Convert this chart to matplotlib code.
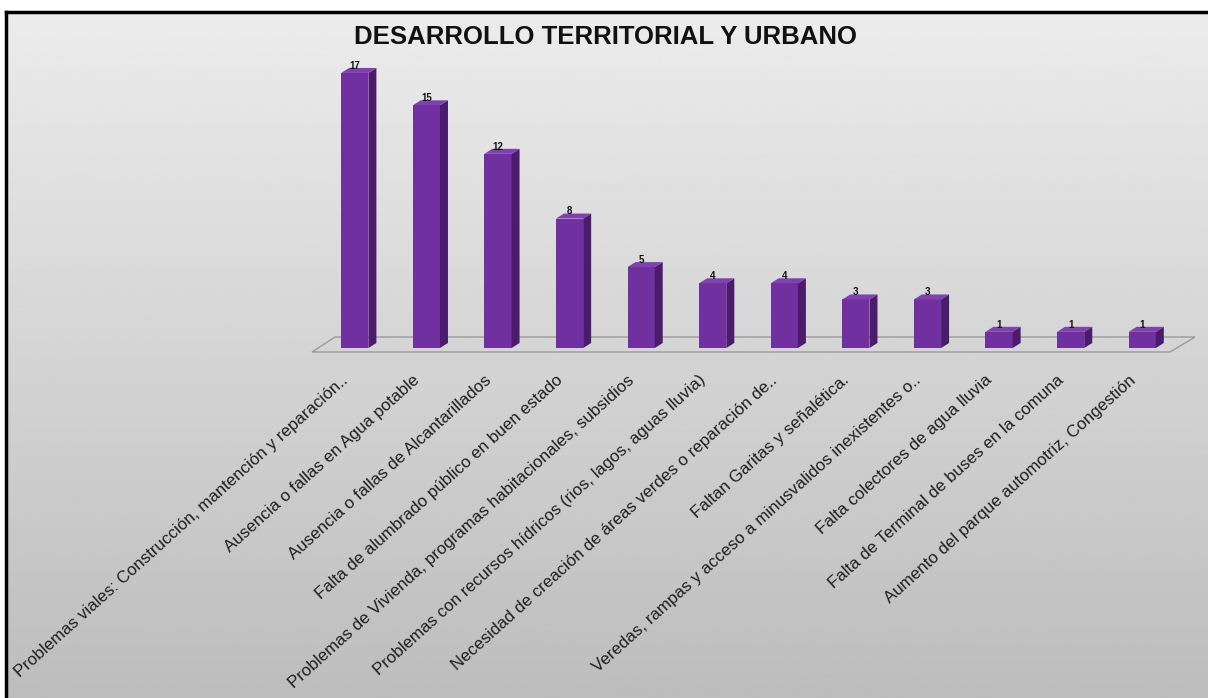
import matplotlib.pyplot as plt
import numpy as np
from matplotlib.patches import Polygon
from matplotlib.lines import Line2D

plt.rcParams['font.family'] = ['Liberation Sans', 'DejaVu Sans']

titulo = 'DESARROLLO TERRITORIAL Y URBANO'
categorias = [
    'Problemas viales: Construcción, mantención y reparación..',
    'Ausencia o fallas en Agua potable',
    'Ausencia o fallas de Alcantarillados',
    'Falta de alumbrado público en buen estado',
    'Problemas de Vivienda, programas habitacionales, subsidios',
    'Problemas con recursos hídricos (rios, lagos, aguas lluvia)',
    'Necesidad de creación de áreas verdes o reparación de..',
    'Faltan Garitas y señalética.',
    'Veredas, rampas y acceso a minusvalidos inexistentes o..',
    'Falta colectores de agua lluvia',
    'Falta de Terminal de buses en la comuna',
    'Aumento del parque automotriz, Congestión',
]
valores = [17, 15, 12, 8, 5, 4, 4, 3, 3, 1, 1, 1]

W, H = 1208, 698
fig = plt.figure(figsize=(W / 100, H / 100), dpi=100)
fig.patch.set_facecolor('white')

# fondo degradado dentro del marco
bg = fig.add_axes([6 / W, 0, 1 - 6 / W, (H - 12) / H])
grad = np.linspace(0.925, 0.74, 256).reshape(-1, 1)
bg.imshow(grad, cmap='gray', vmin=0, vmax=1, aspect='auto', extent=[0, 1, 0, 1])
bg.axis('off')
fig.add_artist(Line2D([6 / W, 6 / W], [0, (H - 12) / H], color='black', lw=2.5))
fig.add_artist(Line2D([6 / W, 1], [(H - 12) / H, (H - 12) / H], color='black', lw=2.5))

# ejes principales
x0_px, x1_px = 319, 1178
y0_px = 348
ymax = 18.5
px_y = 16.18
ax = fig.add_axes([x0_px / W, (H - y0_px) / H, (x1_px - x0_px) / W, ymax * px_y / H])
ax.set_xlim(-0.5, len(valores) - 0.5)
ax.set_ylim(0, ymax)
ax.patch.set_alpha(0)
for s in ax.spines.values():
    s.set_visible(False)
ax.set_yticks([])
ax.set_xticks([])

ux = (x1_px - x0_px) / len(valores)   # px por unidad x
uy = px_y                              # px por unidad y

def px(dx, dy):
    return dx / ux, dy / uy

# piso
xl, xr = ax.get_xlim()
fl = (xl + px(-7, 0)[0], px(0, -4)[1])
fr = (xr + px(-8, 0)[0], px(0, -4)[1])
br = (xr + px(17, 0)[0], px(0, 11)[1])
bl = (xl + px(16, 0)[0], px(0, 11)[1])
ax.add_patch(Polygon([fl, fr, br, bl], closed=True, facecolor='none',
                     edgecolor='#9a9a9a', lw=1, zorder=1, clip_on=False))

# barras 3D
x = np.arange(len(valores))
ancho = 0.38
ddx, ddy = px(8, 5)
ax.bar(x, valores, width=ancho, color='#7030a0', zorder=3)
for xi, v in zip(x, valores):
    xa, xb = xi - ancho / 2, xi + ancho / 2
    ax.add_patch(Polygon([(xb, 0), (xb, v), (xb + ddx, v + ddy), (xb + ddx, ddy)],
                         closed=True, facecolor='#4a1c6b', edgecolor='none', zorder=3, clip_on=False))
    ax.add_patch(Polygon([(xa, v), (xb, v), (xb + ddx, v + ddy), (xa + ddx, v + ddy)],
                         closed=True, facecolor='#8040b0', edgecolor='none', zorder=3, clip_on=False))
    ax.annotate(str(v), (xi, v), xytext=(0, 1.5), textcoords='offset points',
                ha='center', va='bottom', fontsize=7, fontweight='bold', color='#111111')

# etiquetas de categoria
for xi, cat in zip(x, categorias):
    ax.annotate(cat, (xi, 0), xytext=(-9, -30), textcoords='offset pixels',
                ha='right', va='center', rotation=42, rotation_mode='anchor',
                fontsize=12.2, color='#1e1e1e', annotation_clip=False)

fig.text(605 / W, 1 - 37 / H, titulo, ha='center', va='center',
         fontsize=18.5, fontweight='bold', color='#111111')

fig.savefig('out.png', dpi=100)
